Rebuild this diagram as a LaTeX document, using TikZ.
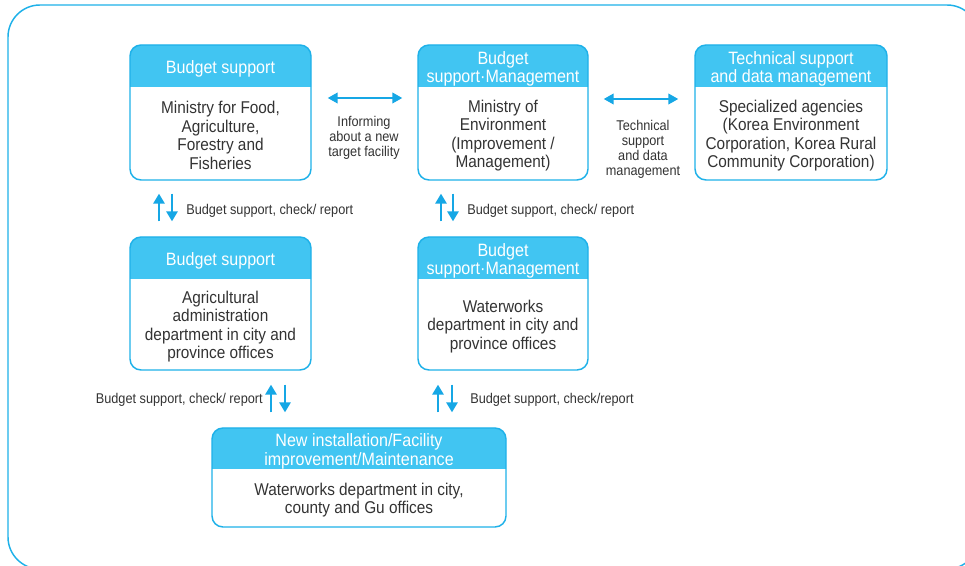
\documentclass[tikz,border=0pt]{standalone}
\usepackage{fontspec}
\setmainfont[FakeStretch=0.9]{Liberation Sans}
\usetikzlibrary{arrows.meta,calc,fit}
\definecolor{frameblue}{HTML}{1EB1E9}
\definecolor{headblue}{HTML}{41C5F2}
\definecolor{arrowblue}{HTML}{16A7E5}
\definecolor{txt}{HTML}{333333}
\newcommand\infobox[8]{%
  \fill[headblue] (#2,#5) [rounded corners=8.25pt] -- (#2,#3) -- (#4,#3) [sharp corners] -- (#4,#5) -- cycle;
  \node[boxline, fit={(#2,#3) (#4,#6)}] (#1) {};
  \node[headtext] (#1h) at ({(#2+#4)/2},{(#3+#5)/2}) {#7};
  \node[bodytext] (#1b) at ({(#2+#4)/2},{(#5+#6)/2}) {#8};
}
\begin{document}
\begin{tikzpicture}[x=0.75pt,y=-0.75pt,
  frame/.style={draw=frameblue, line width=1.1pt, rounded corners=24pt},
  boxline/.style={draw=frameblue, line width=1.1pt, rounded corners=8.25pt, inner sep=0pt},
  headtext/.style={text=white, font=\fontsize{13.4}{13.9}\selectfont, align=center, inner sep=0pt, yshift=-2pt},
  bodytext/.style={text=txt, font=\fontsize{12.8}{13.9}\selectfont, align=center, inner sep=0pt, yshift=-1.5pt},
  lbl/.style={text=txt, font=\fontsize{10.6}{11.25}\selectfont, inner sep=0pt, yshift=-1.3pt},
  lblc/.style={lbl, align=center},
  dbl/.style={draw=arrowblue, line width=1.5pt, {Triangle[length=7.5pt,width=8pt]}-{Triangle[length=7.5pt,width=8pt]}},
  one/.style={draw=arrowblue, line width=1.5pt, -{Triangle[length=7.5pt,width=8.5pt]}},
]
\useasboundingbox (0,0) rectangle (965,566);
\clip (0,0) rectangle (965,566);
\fill[white] (0,0) rectangle (965,566);
\draw[frame] (8,5) rectangle (979,569);

\infobox{b1}{130}{45}{311}{87}{180}{Budget support}{Ministry for Food,\\Agriculture,\\Forestry and\\Fisheries}
\infobox{b2}{418}{45}{588}{87}{180}{Budget\\support·Management}{Ministry of\\Environment\\(Improvement /\\Management)}
\infobox{b3}{695}{45}{887}{87}{180}{Technical support\\and data management}{Specialized agencies\\(Korea Environment\\Corporation, Korea Rural\\Community Corporation)}
\infobox{b4}{130}{237}{311}{279}{370}{Budget support}{Agricultural\\administration\\department in city and\\province offices}
\infobox{b5}{418}{237}{588}{279}{370}{Budget\\support·Management}{Waterworks\\department in city and\\province offices}
\infobox{b6}{212}{428}{506}{469}{527}{New installation/Facility\\improvement/Maintenance}{Waterworks department in city,\\county and Gu offices}

% horizontal arrows
\draw[dbl] ($(b1.east)+(16,-14.5)$) -- ($(b2.west)+(-15,-14.5)$);
\draw[dbl] ($(b2.east)+(15,-13.5)$) -- ($(b3.west)+(-16,-13.5)$);
\node[lblc] (l1) at (364,136) {Informing\\about a new\\target facility};
\node[lblc] (l2) at (643,147.5) {Technical\\support\\and data\\management};

% vertical arrows b1 - b4
\draw[one] ($(b4.north)+(-61.5,-15)$) -- ($(b1.south)+(-61.5,13)$);
\draw[one] ($(b1.south)+(-48.5,13)$) -- ($(b4.north)+(-48.5,-15)$);
\node[lbl, anchor=west] (l3) at (186,209) {Budget support, check/ report};

% vertical arrows b2 - b5
\draw[one] ($(b5.north)+(-62,-15)$) -- ($(b2.south)+(-62,13)$);
\draw[one] ($(b2.south)+(-50,13)$) -- ($(b5.north)+(-50,-15)$);
\node[lbl, anchor=west] (l4) at (467,209) {Budget support, check/ report};

% vertical arrows b4 - b6
\draw[one] ($(b6.north)+(-88,-15)$) -- ($(b4.south)+(50.5,14)$);
\draw[one] ($(b4.south)+(64.5,14)$) -- ($(b6.north)+(-74,-15)$);
\node[lbl, anchor=east] (l5) at (263,398) {Budget support, check/ report};

% vertical arrows b5 - b6
\draw[one] ($(b6.north)+(79,-15)$) -- ($(b5.south)+(-65,14)$);
\draw[one] ($(b5.south)+(-51,14)$) -- ($(b6.north)+(93,-15)$);
\node[lbl, anchor=west] (l6) at (470,398) {Budget support, check/report};
\end{tikzpicture}
\end{document}
